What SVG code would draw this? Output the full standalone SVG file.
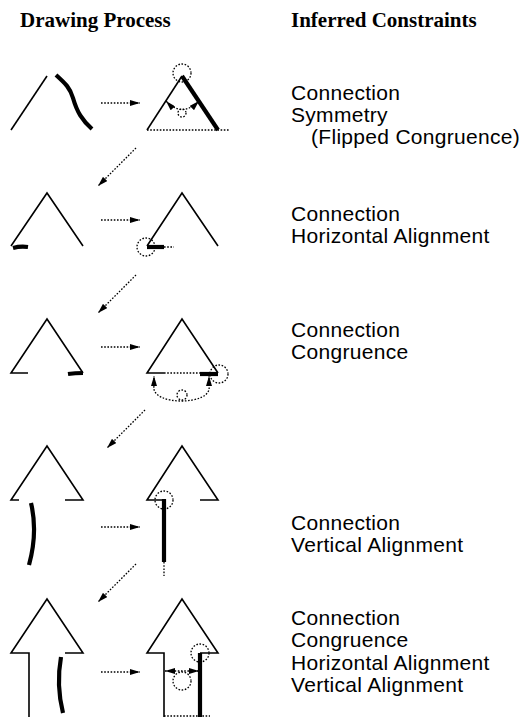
<svg xmlns="http://www.w3.org/2000/svg" width="528" height="717" viewBox="0 0 528 717">
<defs>
<marker id="ah" viewBox="0 0 10 6" refX="10" refY="3" markerWidth="10" markerHeight="6" markerUnits="userSpaceOnUse" orient="auto-start-reverse">
<path d="M0,0 L10,3 L0,6 Z" fill="#000"/>
</marker>
<style>
.title{font-family:"Liberation Serif","Times New Roman",serif;font-weight:bold;font-size:21px;fill:#000}
.lbl{font-family:"Liberation Sans",Arial,sans-serif;font-size:21px;letter-spacing:0.3px;fill:#000}
.thin{fill:none;stroke:#000;stroke-width:1.6;stroke-linejoin:miter}
.thick{fill:none;stroke:#000;stroke-width:4.2;stroke-linecap:butt}
.dot{fill:none;stroke:#000;stroke-width:1.3;stroke-dasharray:1.6 1.6}
</style>
</defs>
<rect width="528" height="717" fill="#fff"/>
<g id="titles">
<text class="title" x="20" y="27">Drawing Process</text>
<text class="title" x="291" y="27">Inferred Constraints</text>
</g>
<g id="row1">
<path class="thin" d="M11,130 L47,76"/>
<path class="thick" d="M56,75 C66,84 70,88 73,98 C77,112 82,120 92,129"/>
<path class="thin" d="M147,130 L182,76"/>
<path class="thick" d="M182,76 L218,130"/>
<path class="dot" d="M147,130 L229,130"/>
<circle class="dot" cx="182" cy="73" r="9"/>
<circle class="dot" cx="182" cy="113" r="4"/>
<path class="dot" d="M166,101 Q182,118 199,101" marker-start="url(#ah)" marker-end="url(#ah)"/>
<text class="lbl" x="291" y="100">Connection</text>
<text class="lbl" x="291" y="122">Symmetry</text>
<text class="lbl" x="311" y="144">(Flipped Congruence)</text>
</g>
<g id="row2">
<path class="thin" d="M11,246 L47,193 L83,246"/>
<path class="thick" d="M13,248 Q20,246 28,247"/>
<path class="thin" d="M147,246 L182,193 L218,246"/>
<path class="thick" d="M147,247 L164,247"/>
<path class="dot" d="M164,247 L174,247"/>
<circle class="dot" cx="146" cy="247" r="9"/>
<text class="lbl" x="291" y="221">Connection</text>
<text class="lbl" x="291" y="243">Horizontal Alignment</text>
</g>
<g id="row3">
<path class="thin" d="M28,373 L11,373 L47,319 L83,373"/>
<path class="thick" d="M68,374 Q75,373 83,373"/>
<path class="thin" d="M164,373 L147,373 L182,319 L218,373"/>
<path class="thick" d="M200,374 L218,374"/>
<path class="dot" d="M164,373 L200,373"/>
<circle class="dot" cx="219" cy="374" r="9"/>
<circle class="dot" cx="182" cy="395" r="5"/>
<path class="dot" d="M154,386 C150,406 213,406 209,386"/>
<path class="dot" d="M154,386 L154,376" marker-end="url(#ah)"/>
<path class="dot" d="M209,386 L209,376" marker-end="url(#ah)"/>
<text class="lbl" x="291" y="337">Connection</text>
<text class="lbl" x="291" y="359">Congruence</text>
</g>
<g id="row4">
<path class="thin" d="M19,500 L11,500 L47,446 L83,500 L65,500"/>
<path class="thick" d="M31,503 Q38,532 29,565"/>
<path class="thin" d="M164,500 L147,500 L182,446 L218,500 L200,500"/>
<path class="thick" d="M164,499 L164,562"/>
<path class="dot" d="M164,562 L164,576"/>
<circle class="dot" cx="164" cy="500" r="9"/>
<text class="lbl" x="291" y="530">Connection</text>
<text class="lbl" x="291" y="552">Vertical Alignment</text>
</g>
<g id="row5">
<path class="thin" d="M29,717 L29,653 L11,653 L47,599 L83,653 L65,653"/>
<path class="thick" d="M61,657 Q56,685 63,713"/>
<path class="thin" d="M164,717 L164,653 L147,653 L182,599 L218,653 L200,653"/>
<path class="thick" d="M200,653 L200,717"/>
<path class="dot" d="M164,716 L210,716"/>
<circle class="dot" cx="200" cy="653" r="9"/>
<circle class="dot" cx="182" cy="681" r="9"/>
<path class="dot" d="M165,671 L199,671" marker-start="url(#ah)" marker-end="url(#ah)"/>
<text class="lbl" x="291" y="625">Connection</text>
<text class="lbl" x="291" y="647">Congruence</text>
<text class="lbl" x="291" y="670">Horizontal Alignment</text>
<text class="lbl" x="291" y="692">Vertical Alignment</text>
</g>
<g id="connectors">
<path class="dot" d="M101,103 L140,103" marker-end="url(#ah)"/>
<path class="dot" d="M101,220 L140,220" marker-end="url(#ah)"/>
<path class="dot" d="M101,347 L140,347" marker-end="url(#ah)"/>
<path class="dot" d="M101,527 L140,527" marker-end="url(#ah)"/>
<path class="dot" d="M101,672 L140,672" marker-end="url(#ah)"/>
<path class="dot" d="M136,148 L98,186" marker-end="url(#ah)"/>
<path class="dot" d="M136,275 L98,313" marker-end="url(#ah)"/>
<path class="dot" d="M145,410 L107,448" marker-end="url(#ah)"/>
<path class="dot" d="M136,564 L98,602" marker-end="url(#ah)"/>
</g>
</svg>
